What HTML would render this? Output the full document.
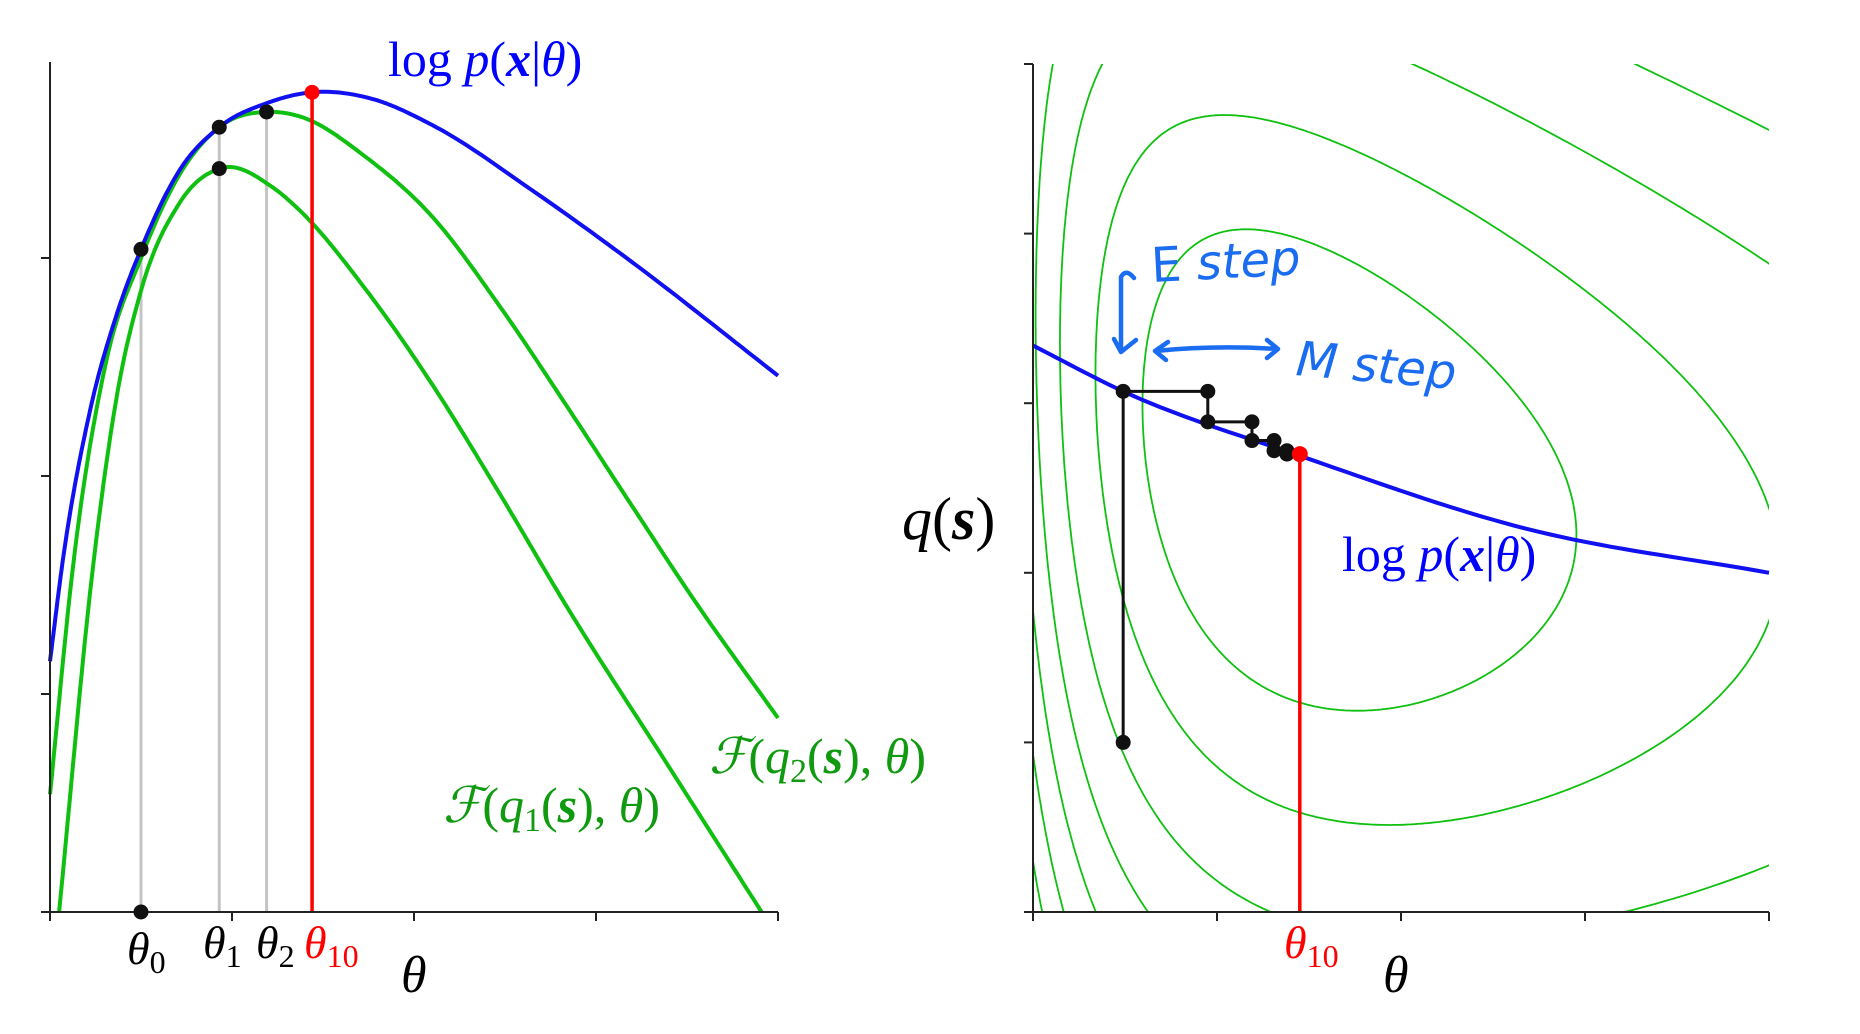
<!DOCTYPE html>
<html><head><meta charset="utf-8"><style>
html,body{margin:0;padding:0;background:#fff;overflow:hidden;width:1860px;height:1034px;}
svg{display:block;}
text{font-family:"Liberation Serif","DejaVu Serif",serif;}
</style></head><body>
<svg id="chart" width="1860" height="1034" viewBox="0 0 1860 1034" xmlns="http://www.w3.org/2000/svg">
<defs>
<clipPath id="clipR"><rect x="1033" y="64" width="736" height="848"/></clipPath>
</defs>
<g id="left"></g>
<g id="right"></g>

<text x="388" y="76" font-size="50" fill="#0000ff">log <tspan font-style="italic">p</tspan>(<tspan font-style="italic" font-weight="bold">x</tspan>|<tspan font-style="italic">θ</tspan>)</text>
<text x="709" y="773" font-size="50" fill="#109a10"><tspan font-style="italic">ℱ</tspan>(<tspan font-style="italic">q</tspan><tspan font-size="34" dy="9">2</tspan><tspan dy="-9">(</tspan><tspan font-style="italic" font-weight="bold">s</tspan>), <tspan font-style="italic">θ</tspan>)</text>
<text x="443" y="822" font-size="50" fill="#109a10"><tspan font-style="italic">ℱ</tspan>(<tspan font-style="italic">q</tspan><tspan font-size="34" dy="9">1</tspan><tspan dy="-9">(</tspan><tspan font-style="italic" font-weight="bold">s</tspan>), <tspan font-style="italic">θ</tspan>)</text>
<text x="127" y="964" font-size="46" font-style="italic">θ<tspan font-style="normal" font-size="32" dy="9">0</tspan></text>
<text x="203" y="958" font-size="46" font-style="italic">θ<tspan font-style="normal" font-size="32" dy="9">1</tspan></text>
<text x="256" y="958" font-size="46" font-style="italic">θ<tspan font-style="normal" font-size="32" dy="9">2</tspan></text>
<text x="304" y="958" font-size="46" font-style="italic" fill="#ff0000">θ<tspan font-style="normal" font-size="32" dy="9">10</tspan></text>
<text x="401" y="992" font-size="52" font-style="italic">θ</text>

<text x="902" y="539" font-size="60"><tspan font-style="italic">q</tspan>(<tspan font-style="italic" font-weight="bold">s</tspan>)</text>
<text x="1284" y="958" font-size="46" font-style="italic" fill="#ff0000">θ<tspan font-style="normal" font-size="32" dy="9">10</tspan></text>
<text x="1383" y="992" font-size="52" font-style="italic">θ</text>
<text x="1342" y="571" font-size="50" fill="#0000ff">log <tspan font-style="italic">p</tspan>(<tspan font-style="italic" font-weight="bold">x</tspan>|<tspan font-style="italic">θ</tspan>)</text>

<g fill="none" stroke="#1a6cf0" stroke-width="4.5" stroke-linecap="round" stroke-linejoin="round">
<path d="M1134 278 Q1126 268 1121 277 L1121 352 M1121 352 L1136 340 M1121 352 L1114 339"/>
</g>
<text x="1152" y="282" font-size="48" fill="#1a6cf0" style="font-family:'DejaVu Sans',sans-serif" transform="rotate(-3 1152 282)">E <tspan font-style="italic">step</tspan></text>
<g fill="none" stroke="#1a6cf0" stroke-width="4.5" stroke-linecap="round" stroke-linejoin="round">
<path d="M1155 351 Q1215 345 1278 349 M1155 351 L1168 342 M1155 351 L1166 360 M1278 349 L1267 340 M1278 349 L1267 358"/>
</g>
<text x="1295" y="375" font-size="48" font-style="italic" fill="#1a6cf0" style="font-family:'DejaVu Sans',sans-serif" transform="rotate(5 1295 375)">M step</text>
</svg>
<script>
// ---------- Left panel data ----------
const blueX = [0, 0.07, 0.22, 0.37, 0.5, 0.71, 0.93, 1.19, 1.44, 1.77, 2.10, 2.65, 3.20, 4.0];
const blueY = [1.15, 1.61, 2.30, 2.75, 3.04, 3.40, 3.60, 3.71, 3.76, 3.73, 3.61, 3.31, 2.98, 2.46];
const q1X = [0.05, 0.24, 0.37, 0.5, 0.71, 0.93, 1.23, 1.37, 1.74, 2.10, 2.47, 2.84, 3.39, 3.91];
const q1Y = [0, 1.61, 2.38, 2.85, 3.25, 3.41, 3.32, 3.22, 2.85, 2.42, 1.92, 1.40, 0.68, 0];
const q2X = [0, 0.13, 0.31, 0.5, 0.71, 0.93, 1.19, 1.37, 1.74, 2.10, 2.47, 2.84, 3.20, 3.54, 4.0];
const q2Y = [0.54, 1.61, 2.53, 3.0, 3.38, 3.60, 3.67, 3.65, 3.46, 3.19, 2.78, 2.32, 1.86, 1.43, 0.89];
const thetaIter = [0.5, 0.93, 1.19];
const dotX = [0.5, 0.5, 0.93, 0.93, 1.19];
const dotY = [0, 3.04, 3.60, 3.41, 3.67];
const iterTopY = [3.04, 3.60, 3.67];
const thetaBest = 1.44;
const thetaBestY = 3.76;
const leftXTicks = [0, 1, 2, 3, 4];
const leftYTicks = [0, 1, 2, 3];
// ---------- Right panel data ----------
const rBlueX = [0, 0.49, 1.45, 2.68, 4];
const rBlueY = [3.34, 3.07, 2.69, 2.26, 2.0];
const stepX = [0.49, 0.95, 1.19, 1.31, 1.38, 1.45];
const stepY = [1.0, 3.07, 2.89, 2.78, 2.72, 2.70];
const contourLevels = [0.59, 0.87, 1.15, 1.4, 1.62, 1.82, 2.0, 2.17, 2.33, 2.48, 2.62, 2.75, 2.88, 3.0];
const rightXTicks = [0, 1, 2, 3, 4];
const rightYTicks = [0, 1, 2, 3, 4, 5];

const NS = 'http://www.w3.org/2000/svg';
const xL = v => 50 + v * 182, yL = v => 912 - v * 218;
const xR = v => 1033 + v * 184, yR = v => 912 - v * 169.6;

function mk(tag, attrs, parent) {
  const e = document.createElementNS(NS, tag);
  for (const k in attrs) e.setAttribute(k, attrs[k]);
  parent.appendChild(e);
  return e;
}
function curvePath(xs, ys, sx, sy) {
  const n = xs.length, m = [];
  for (let i = 0; i < n; i++) {
    if (i === 0) m.push((ys[1] - ys[0]) / (xs[1] - xs[0]));
    else if (i === n - 1) m.push((ys[n - 1] - ys[n - 2]) / (xs[n - 1] - xs[n - 2]));
    else {
      const h0 = xs[i] - xs[i - 1], h1 = xs[i + 1] - xs[i];
      const d0 = (ys[i] - ys[i - 1]) / h0, d1 = (ys[i + 1] - ys[i]) / h1;
      m.push((d0 * h1 + d1 * h0) / (h0 + h1));
    }
  }
  let d = 'M' + sx(xs[0]).toFixed(1) + ' ' + sy(ys[0]).toFixed(1);
  for (let i = 0; i < n - 1; i++) {
    const h = xs[i + 1] - xs[i];
    for (let k = 1; k <= 20; k++) {
      const t = k / 20, t2 = t * t, t3 = t2 * t;
      const y = (2 * t3 - 3 * t2 + 1) * ys[i] + (t3 - 2 * t2 + t) * h * m[i] + (-2 * t3 + 3 * t2) * ys[i + 1] + (t3 - t2) * h * m[i + 1];
      d += ' L' + sx(xs[i] + t * h).toFixed(1) + ' ' + sy(y).toFixed(1);
    }
  }
  return d;
}
const L = document.getElementById('left');
const R = document.getElementById('right');

thetaIter.forEach((t, i) => {
  const ln = mk('line', {x1: xL(t), x2: xL(t), y1: yL(0), y2: yL(iterTopY[i]), stroke: '#c4c4c4', 'stroke-width': 3}, L);
  
  
});
[[q1X, q1Y, '#10c010', 'f-q1-curve'], [q2X, q2Y, '#10c010', 'f-q2-curve'], [blueX, blueY, '#1010f0', 'log-likelihood-curve']].forEach(c => {
  const p = mk('path', {d: curvePath(c[0], c[1], xL, yL), fill: 'none', stroke: c[2], 'stroke-width': 4, 'stroke-linejoin': 'round'}, L);
  
  
});
const rl = mk('line', {x1: xL(thetaBest), x2: xL(thetaBest), y1: yL(0), y2: yL(thetaBestY), stroke: '#ff0000', 'stroke-width': 3.5}, L);


const la = mk('path', {d: 'M50 62 L50 912 L778 912', fill: 'none', stroke: '#222', 'stroke-width': 2}, L);


leftXTicks.forEach(t => {
  const tk = mk('line', {x1: xL(t), x2: xL(t), y1: 912, y2: 921, stroke: '#222', 'stroke-width': 2}, L);
  
  
});
leftYTicks.forEach(t => {
  const tk = mk('line', {x1: 41, x2: 50, y1: yL(t), y2: yL(t), stroke: '#222', 'stroke-width': 2}, L);
  
  
});
dotX.forEach((x, i) => {
  const c = mk('circle', {cx: xL(x), cy: yL(dotY[i]), r: 7.5, fill: '#111'}, L);
  
  
});
const rp = mk('circle', {cx: xL(thetaBest), cy: yL(thetaBestY), r: 7.5, fill: '#ff0000'}, L);



const cg = mk('g', {'clip-path': 'url(#clipR)'}, R);


const rho = 0.27, cX = 5.85;
contourLevels.forEach(r => {
  const pts = [];
  for (let k = 0; k <= 720; k++) {
    const t = k / 720 * 2 * Math.PI;
    const X = cX + r * Math.cos(t);
    const v = r * (rho * Math.cos(t) + Math.sqrt(1 - rho * rho) * Math.sin(t));
    pts.push(Math.min(950 + Math.exp(X), 4000).toFixed(1) + ' ' + (470 + 408 * v).toFixed(1));
  }
  const p = mk('path', {d: 'M' + pts.join(' L') + 'Z', fill: 'none', stroke: '#10c010', 'stroke-width': 1.8}, cg);
  
  
});
const rb = mk('path', {d: curvePath(rBlueX, rBlueY, xR, yR), fill: 'none', stroke: '#1010f0', 'stroke-width': 4}, R);


let sd = 'M' + xR(stepX[0]) + ' ' + yR(stepY[0]);
const corners = [[stepX[0], stepY[0]]];
for (let i = 1; i < stepX.length; i++) {
  sd += ' L' + xR(stepX[i - 1]) + ' ' + yR(stepY[i]) + ' L' + xR(stepX[i]) + ' ' + yR(stepY[i]);
  corners.push([stepX[i - 1], stepY[i]], [stepX[i], stepY[i]]);
}
const sp = mk('path', {d: sd, fill: 'none', stroke: '#111', 'stroke-width': 3}, R);


const rr = mk('line', {x1: xR(stepX[stepX.length - 1]), x2: xR(stepX[stepX.length - 1]), y1: yR(0), y2: yR(stepY[stepY.length - 1]), stroke: '#ff0000', 'stroke-width': 3.5}, R);


corners.slice(0, -1).forEach(c => {
  const d = mk('circle', {cx: xR(c[0]), cy: yR(c[1]), r: 7.5, fill: '#111'}, R);
  
  
});
const rp2 = mk('circle', {cx: xR(stepX[stepX.length - 1]), cy: yR(stepY[stepY.length - 1]), r: 8, fill: '#ff0000'}, R);


const ra = mk('path', {d: 'M1033 64 L1033 912 L1769 912', fill: 'none', stroke: '#222', 'stroke-width': 2}, R);


rightXTicks.forEach(t => {
  const tk = mk('line', {x1: xR(t), x2: xR(t), y1: 912, y2: 921, stroke: '#222', 'stroke-width': 2}, R);
  
  
});
rightYTicks.forEach(t => {
  const tk = mk('line', {x1: 1024, x2: 1033, y1: yR(t), y2: yR(t), stroke: '#222', 'stroke-width': 2}, R);
  
  
});
</script>
</body></html>
